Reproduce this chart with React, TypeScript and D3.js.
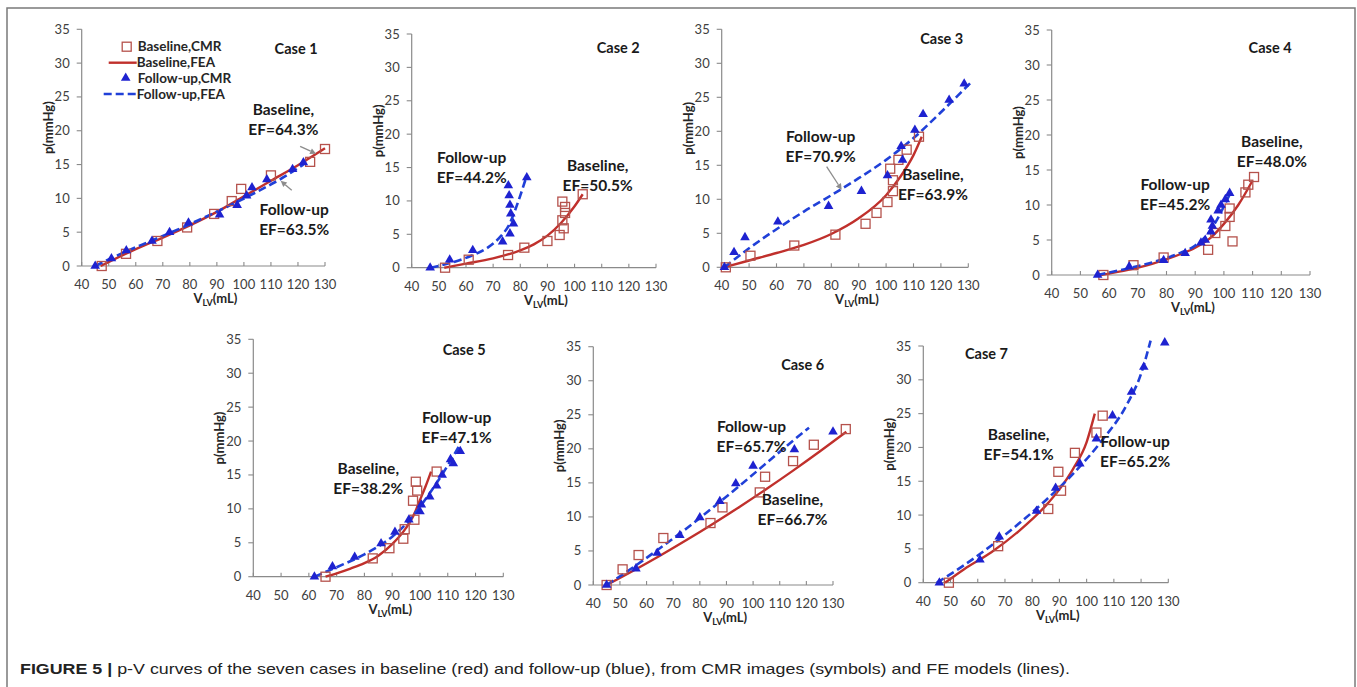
import React from 'react';
import * as d3 from 'd3';

type Pt = [number, number];

// axis ticks shared by every panel
const xTicks = [40, 50, 60, 70, 80, 90, 100, 110, 120, 130];
const yTicks = [0, 5, 10, 15, 20, 25, 30, 35];

// ---- Case 1 ----
const case1BaseCMR: Pt[] = [[47.4, 0], [56.4, 1.8], [68, 3.7], [79, 5.7], [89, 7.7], [95.5, 9.6], [99, 11.4], [110, 13.4], [124.5, 15.4], [130, 17.3]];
const case1BaseFEA: Pt[] = [[47, 0], [60, 2.5], [70, 4.2], [80, 6.0], [90, 8.0], [100, 10.3], [110, 12.6], [120, 14.9], [130, 17.4]];
const case1FuCMR: Pt[] = [[45, 0], [51, 1.1], [56.5, 2.3], [66, 3.7], [72.5, 5.0], [79.5, 6.4], [91, 7.6], [97.5, 9.0], [101, 10.4], [103, 11.6], [108.5, 12.8], [118, 14.3], [122, 15.3]];
const case1FuFEA: Pt[] = [[45, 0], [55, 1.9], [65, 3.6], [75, 5.3], [85, 7.1], [95, 9.0], [105, 11.0], [115, 13.2], [122, 15.0]];

// ---- Case 2 ----
const case2BaseCMR: Pt[] = [[52.3, 0], [61, 1.2], [75.5, 1.9], [81.5, 3.0], [90, 4.0], [94.5, 4.9], [96, 5.9], [95.5, 7.1], [96.5, 8.2], [96.5, 9.1], [95.5, 9.9], [103, 11.0]];
const case2BaseFEA: Pt[] = [[52, 0], [60, 0.6], [70, 1.4], [80, 2.6], [85, 3.5], [90, 4.8], [95, 6.7], [100, 9.2], [103, 11.0]];
const case2FuCMR: Pt[] = [[46.8, 0], [54, 1.2], [62.5, 2.6], [73.5, 3.9], [76.2, 5.1], [77.5, 6.6], [76.5, 8.1], [76.2, 9.4], [75.9, 10.8], [75.6, 12.3], [82.4, 13.5]];
const case2FuFEA: Pt[] = [[47, 0], [55, 0.8], [62, 1.8], [68, 3.0], [73, 4.8], [76, 6.5], [78, 8.5], [80, 10.8], [82, 13.3]];

// ---- Case 3 ----
const case3BaseCMR: Pt[] = [[41.5, 0], [50.5, 1.7], [66.5, 3.2], [81.5, 4.8], [92.5, 6.4], [96.5, 8.0], [100.5, 9.6], [102.5, 11.2], [102.5, 12.8], [101.5, 14.5], [104.5, 15.8], [107.5, 17.3], [112, 19.2]];
const case3BaseFEA: Pt[] = [[41, 0], [50, 1.0], [60, 2.1], [70, 3.3], [80, 4.9], [90, 7.2], [100, 10.6], [105, 13.2], [110, 16.5], [113, 19.2]];
const case3FuCMR: Pt[] = [[41, 0], [44.5, 2.2], [48.5, 4.4], [60.5, 6.7], [79, 9.0], [91, 11.2], [100.5, 13.5], [106, 15.8], [105.5, 17.8], [110.5, 20.2], [113.5, 22.5], [123, 24.6], [128.5, 27]];
const case3FuFEA: Pt[] = [[41, 0], [50, 2.8], [60, 5.6], [70, 8.2], [80, 10.6], [90, 13.1], [100, 15.8], [110, 19.0], [120, 22.8], [131, 27.2]];

// ---- Case 4 ----
const case4BaseCMR: Pt[] = [[58, 0], [68.5, 1.4], [79, 2.5], [94.5, 3.6], [103, 4.8], [97, 6.0], [100.5, 7.0], [102, 8.3], [102, 9.5], [107.5, 11.8], [108.5, 12.9], [110.5, 14.0]];
const case4BaseFEA: Pt[] = [[57, 0], [65, 0.6], [75, 1.6], [85, 3.0], [90, 3.9], [95, 5.2], [100, 7.3], [105, 10.0], [110, 13.5]];
const case4FuCMR: Pt[] = [[56, 0], [67, 1.2], [79, 2.1], [86.5, 3.1], [92, 4.6], [93.5, 5.0], [95.5, 6.2], [96, 7.0], [95.5, 7.9], [98, 9.2], [99, 10.0], [100.5, 10.8], [102, 11.7]];
const case4FuFEA: Pt[] = [[56, 0], [65, 0.8], [75, 1.8], [85, 3.2], [90, 4.2], [95, 6.2], [98, 8.2], [100, 9.8], [102, 11.5]];

// ---- Case 5 ----
const case5BaseCMR: Pt[] = [[66, 0], [83, 2.7], [89, 4.2], [94, 5.6], [94.5, 7.0], [98, 8.4], [97.5, 11.2], [99, 12.7], [98.5, 14.0], [106, 15.5]];
const case5BaseFEA: Pt[] = [[66, 0], [70, 0.5], [75, 1.2], [80, 2.0], [85, 3.1], [90, 4.8], [95, 7.2], [98, 9.3], [100, 11.3], [102, 13.3], [104, 15.5]];
const case5FuCMR: Pt[] = [[62, 0], [68.5, 1.5], [76.5, 2.9], [86, 4.9], [91, 6.6], [96, 8.4], [100, 9.6], [100.5, 10.6], [103.5, 11.8], [106, 13.4], [108, 15.0], [112, 16.7], [111, 17.3], [114.5, 18.5]];
const case5FuFEA: Pt[] = [[62, 0], [70, 1.4], [80, 3.3], [90, 5.9], [95, 7.8], [100, 10.3], [105, 13.2], [110, 16.4], [114, 19.2]];

// ---- Case 6 ----
const case6BaseCMR: Pt[] = [[45, 0], [51, 2.3], [57, 4.4], [66.3, 6.9], [84, 9.1], [88.5, 11.4], [102.5, 13.6], [104.5, 15.9], [115, 18.2], [122.8, 20.6], [134.8, 22.9]];
const case6BaseFEA: Pt[] = [[45, 0], [55, 2.1], [65, 4.3], [75, 6.6], [85, 9.0], [95, 11.5], [105, 14.1], [115, 16.8], [125, 19.6], [135, 22.5]];
const case6FuCMR: Pt[] = [[45, 0], [56, 2.4], [64, 4.7], [72.5, 7.3], [80, 9.9], [87.5, 12.3], [93.5, 14.9], [100, 17.5], [115.5, 19.9], [130, 22.5]];
const case6FuFEA: Pt[] = [[45, 0], [55, 2.6], [65, 5.4], [75, 8.3], [85, 11.4], [95, 14.6], [105, 17.9], [115, 21.2], [121, 23.1]];

// ---- Case 7 ----
const case7BaseCMR: Pt[] = [[49.4, 0], [67.5, 5.4], [85.9, 10.9], [90.6, 13.6], [89.6, 16.4], [95.7, 19.2], [103.6, 22.2], [105.9, 24.7]];
const case7BaseFEA: Pt[] = [[48, 0], [55, 2.0], [65, 4.5], [75, 7.6], [85, 11.4], [90, 13.8], [95, 16.8], [100, 20.8], [103, 25.0]];
const case7FuCMR: Pt[] = [[45.9, 0], [60.8, 3.4], [67.9, 6.8], [81.6, 10.6], [88.6, 14.0], [97.5, 17.6], [103.6, 21.3], [109.5, 24.7], [116.5, 28.2], [121, 31.9], [128.7, 35.5]];
const case7FuFEA: Pt[] = [[45, 0], [55, 2.6], [65, 5.5], [75, 8.7], [85, 12.2], [95, 16.1], [105, 20.7], [115, 26.5], [120, 30.9], [123.5, 35.8]];

const caseNames = ['Case 1', 'Case 2', 'Case 3', 'Case 4', 'Case 5', 'Case 6', 'Case 7'];
const efBaseline = ['64.3%', '50.5%', '63.9%', '48.0%', '38.2%', '66.7%', '54.1%'];
const efFollowUp = ['63.5%', '44.2%', '70.9%', '45.2%', '47.1%', '65.7%', '65.2%'];

const baseCMR = [case1BaseCMR, case2BaseCMR, case3BaseCMR, case4BaseCMR, case5BaseCMR, case6BaseCMR, case7BaseCMR];
const baseFEA = [case1BaseFEA, case2BaseFEA, case3BaseFEA, case4BaseFEA, case5BaseFEA, case6BaseFEA, case7BaseFEA];
const fuCMR = [case1FuCMR, case2FuCMR, case3FuCMR, case4FuCMR, case5FuCMR, case6FuCMR, case7FuCMR];
const fuFEA = [case1FuFEA, case2FuFEA, case3FuFEA, case4FuFEA, case5FuFEA, case6FuFEA, case7FuFEA];

// pixel frame of each plot: x=40..130 maps left..right, p=0..35 maps zero..top
const layouts = [
  { left: 81.7, right: 325, zero: 266, top: 29.3 },
  { left: 411.7, right: 656, zero: 267.7, top: 34 },
  { left: 721.7, right: 968.3, zero: 267.3, top: 29.3 },
  { left: 1051.7, right: 1310, zero: 275, top: 30 },
  { left: 253.3, right: 503.3, zero: 576.7, top: 339.3 },
  { left: 593.3, right: 833, zero: 585, top: 346.7 },
  { left: 923.3, right: 1168.3, zero: 582.7, top: 346 },
];

// label placement (data coordinates, text centred)
const labelPos = [
  { caseAt: [119.3, 31.3], base: [114.6, 22.3], baseDir: 1, fu: [118.6, 7.5] },
  { caseAt: [116.1, 32.2], base: [108.5, 14.5], baseDir: 1, fu: [62.1, 15.7] },
  { caseAt: [120.3, 32.8], base: [117.1, 12.8], baseDir: 1, fu: [76.1, 18.4] },
  { caseAt: [116.1, 31.7], base: [116.7, 18.3], baseDir: 1, fu: [83.0, 12.1] },
  { caseAt: [115.9, 32.7], base: [81.4, 15.2], baseDir: 1, fu: [113.2, 22.6] },
  { caseAt: [118.6, 31.6], base: [114.8, 11.7], baseDir: 1, fu: [99.4, 22.5] },
  { caseAt: [63.2, 33.1], base: [75.0, 21.1], baseDir: 1, fu: [117.8, 20.1] },
];

// arrows: [x1, p1, x2, p2] with head at the second point
const arrows: number[][][] = [
  [[120.8, 17.7, 126.7, 16.6], [117.7, 11.2, 113.6, 12.6]],
  [],
  [[78.3, 14.8, 83.8, 11.4]],
  [], [], [], [],
];

const RED_LINE = '#C0302C';
const RED_MARK = '#B5524C';
const BLUE_MARK = '#1E22D0';
const BLUE_LINE = '#2040D8';
const FONT = 'Lato, "Open Sans", sans-serif';

const triPath = d3.symbol().type(d3.symbolTriangle).size(40)()!;

function Panel({ i }: { i: number }) {
  const L = layouts[i];
  const x = d3.scaleLinear().domain([40, 130]).range([L.left, L.right]);
  const y = d3.scaleLinear().domain([0, 35]).range([L.zero, L.top]);
  const line = d3.line<Pt>().x((d) => x(d[0])).y((d) => y(d[1])).curve(d3.curveMonotoneX);
  const lp = labelPos[i];
  const midX = (L.left + L.right) / 2 + 12;
  const midY = (L.zero + L.top) / 2 - 20;

  return (
    <g fontFamily={FONT}>
      {/* axes */}
      <line x1={L.left} x2={L.right} y1={L.zero} y2={L.zero} stroke="#8a8a8a" strokeWidth={1.2} />
      <line x1={L.left} x2={L.left} y1={L.zero} y2={L.top} stroke="#8a8a8a" strokeWidth={1.2} />
      {xTicks.map((t) => (
        <g key={'x' + t}>
          <line x1={x(t)} x2={x(t)} y1={L.zero} y2={L.zero - 4} stroke="#8a8a8a" strokeWidth={1.1} />
          <text x={x(t)} y={L.zero + 23} textAnchor="middle" fontSize={13} fill="#404040">{t}</text>
        </g>
      ))}
      {yTicks.map((t) => (
        <g key={'y' + t}>
          <line x1={L.left - 5} x2={L.left} y1={y(t)} y2={y(t)} stroke="#8a8a8a" strokeWidth={1.1} />
          <text x={L.left - 12} y={y(t) + 4.5} textAnchor="end" fontSize={13} fill="#404040">{t}</text>
        </g>
      ))}
      <text x={midX} y={L.zero + 37} textAnchor="middle" fontSize={13} fontWeight="bold" fill="#262626">
        V<tspan fontSize={9} dy={3}>LV</tspan><tspan dy={-3}>(mL)</tspan>
      </text>
      <text transform={`translate(${L.left - 29},${midY}) rotate(-90)`} textAnchor="middle" fontSize={13} fontWeight="bold" fill="#262626">
        p(mmHg)
      </text>

      {/* series */}
      <path d={line(baseFEA[i])!} fill="none" stroke={RED_LINE} strokeWidth={2.4} />
      <path d={line(fuFEA[i])!} fill="none" stroke={BLUE_LINE} strokeWidth={2.6} strokeDasharray="8,4" />
      {baseCMR[i].map((d, k) => (
        <rect key={'s' + k} x={x(d[0]) - 4.5} y={y(d[1]) - 4.5} width={9} height={9} fill="none" stroke={RED_MARK} strokeWidth={1.3} />
      ))}
      {fuCMR[i].map((d, k) => (
        <path key={'t' + k} d={triPath} transform={`translate(${x(d[0])},${y(d[1])})`} fill={BLUE_MARK} />
      ))}

      {/* annotations */}
      {arrows[i].map((a, k) => {
        const x1 = x(a[0]), y1 = y(a[1]), x2 = x(a[2]), y2 = y(a[3]);
        const ang = Math.atan2(y2 - y1, x2 - x1);
        const h = 6, w = 3;
        const bx = x2 - h * Math.cos(ang), by = y2 - h * Math.sin(ang);
        const pts = `${x2},${y2} ${bx + w * Math.sin(ang)},${by - w * Math.cos(ang)} ${bx - w * Math.sin(ang)},${by + w * Math.cos(ang)}`;
        return (
          <g key={'a' + k}>
            <line x1={x1} y1={y1} x2={bx} y2={by} stroke="#8c8c8c" strokeWidth={1.3} />
            <polygon points={pts} fill="#8c8c8c" />
          </g>
        );
      })}
      <text x={x(lp.caseAt[0])} y={y(lp.caseAt[1])} textAnchor="middle" fontSize={14.5} fontWeight="bold" fill="#1a1a1a">{caseNames[i]}</text>
      <text x={x(lp.base[0])} y={y(lp.base[1])} textAnchor="middle" fontSize={15.5} fontWeight="bold" fill="#1a1a1a">Baseline,</text>
      <text x={x(lp.base[0])} y={y(lp.base[1]) + 20} textAnchor="middle" fontSize={15.5} fontWeight="bold" fill="#1a1a1a">EF={efBaseline[i]}</text>
      <text x={x(lp.fu[0])} y={y(lp.fu[1])} textAnchor="middle" fontSize={15.5} fontWeight="bold" fill="#1a1a1a">Follow-up</text>
      <text x={x(lp.fu[0])} y={y(lp.fu[1]) + 20} textAnchor="middle" fontSize={15.5} fontWeight="bold" fill="#1a1a1a">EF={efFollowUp[i]}</text>
    </g>
  );
}

function Legend() {
  const L = layouts[0];
  const rows = [L.top + 17.4, L.top + 33.4, L.top + 48.7, L.top + 64.7];
  const mx = L.left + 45;
  const tx = L.left + 55;
  return (
    <g fontFamily={FONT} fontSize={13.5} fontWeight="bold" fill="#262626">
      <rect x={mx - 4.5} y={rows[0] - 4.5} width={9} height={9} fill="none" stroke={RED_MARK} strokeWidth={1.3} />
      <text x={tx + 1} y={rows[0] + 4.5}>Baseline,CMR</text>
      <line x1={mx - 18} x2={tx} y1={rows[1]} y2={rows[1]} stroke={RED_LINE} strokeWidth={2.4} />
      <text x={tx} y={rows[1] + 4.5}>Baseline,FEA</text>
      <path d={triPath} transform={`translate(${mx - 1},${rows[2]})`} fill={BLUE_MARK} />
      <text x={tx + 1} y={rows[2] + 4.5}>Follow-up,CMR</text>
      <line x1={mx - 23} x2={tx} y1={rows[3]} y2={rows[3]} stroke={BLUE_LINE} strokeWidth={2.6} strokeDasharray="8,4" />
      <text x={tx} y={rows[3] + 4.5}>Follow-up,FEA</text>
    </g>
  );
}

export default function App() {
  return (
    <svg width={1357} height={687} style={{ position: 'absolute', left: 0, top: 0, background: '#fff' }}>
      <rect x={7} y={8} width={1348} height={700} fill="#fff" stroke="#7a7a7a" strokeWidth={1.5} />
      {layouts.map((_, i) => <Panel key={i} i={i} />)}
      <Legend />
      <text x={20} y={674} fontSize={15} fill="#222" fontFamily='"Liberation Sans Narrow", "Liberation Sans", Arial, sans-serif' textLength={1050} lengthAdjust="spacingAndGlyphs">
        <tspan fontWeight="bold">FIGURE 5 |</tspan> p-V curves of the seven cases in baseline (red) and follow-up (blue), from CMR images (symbols) and FE models (lines).
      </text>
    </svg>
  );
}
